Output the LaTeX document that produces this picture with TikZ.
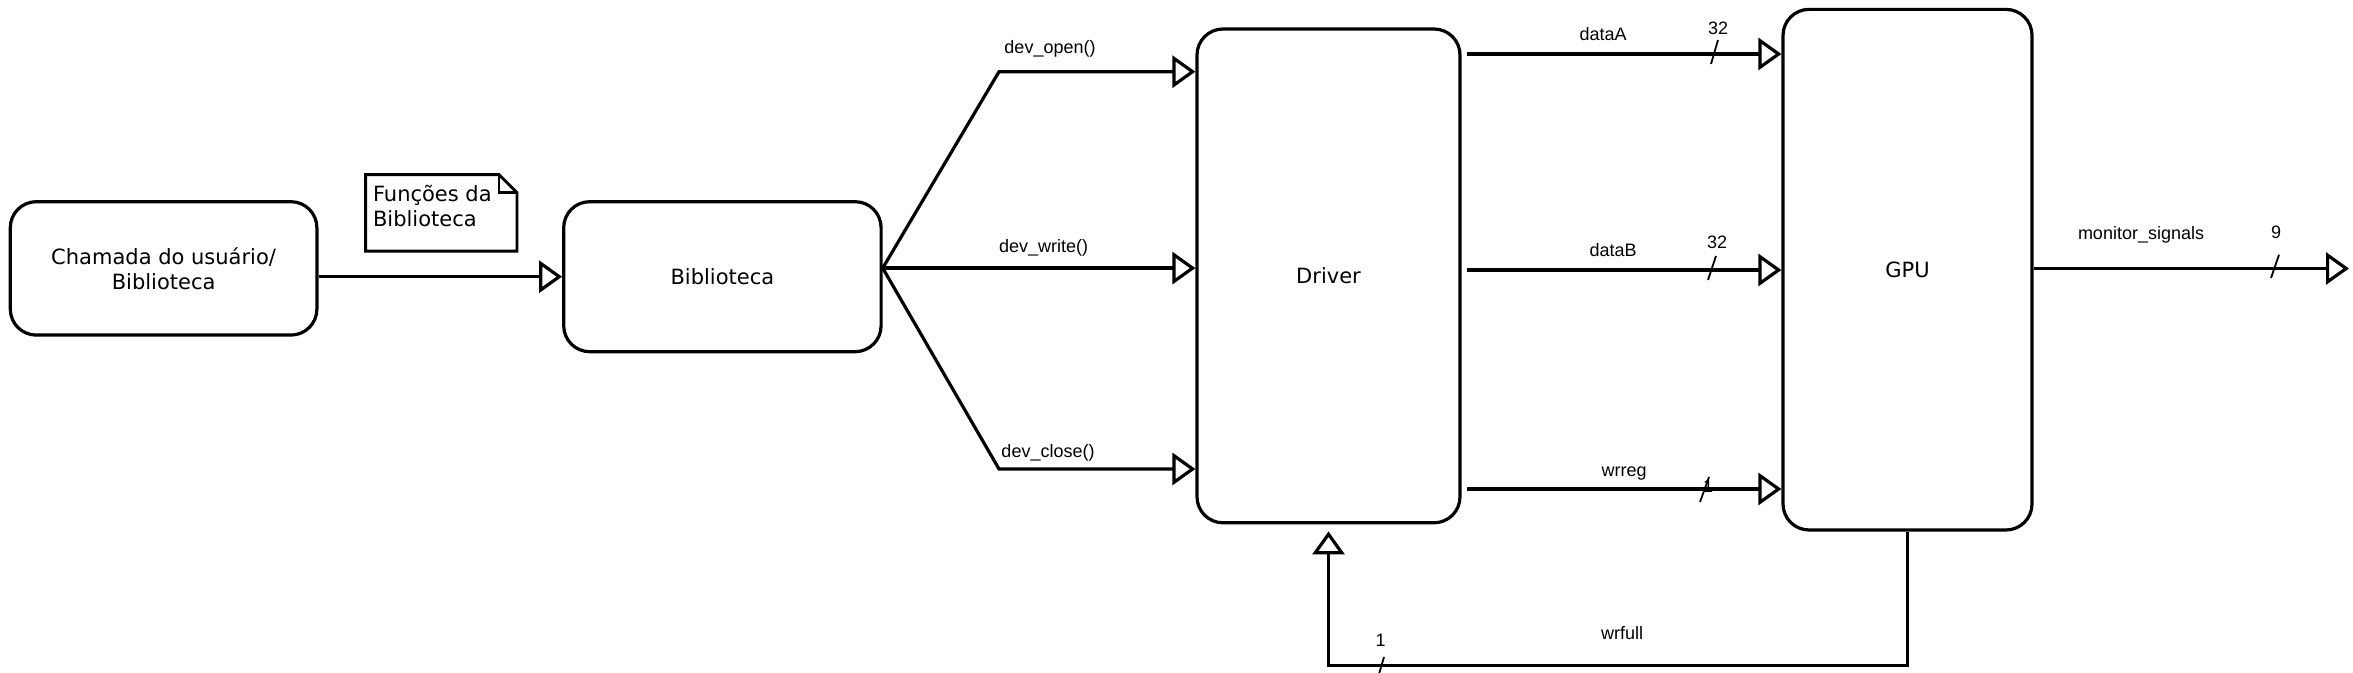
\documentclass[tikz,border=0pt]{standalone}
\usepackage{fontspec}
\setmainfont{DejaVu Sans}
\newfontfamily\labfont{Liberation Sans}
\usetikzlibrary{arrows.meta}
\begin{document}
\begin{tikzpicture}[x=0.5pt,y=-0.5pt,
  blk/.style={draw,line width=1.6pt,rounded corners=13pt,inner sep=0pt,font=\fontsize{10.5}{12.4}\selectfont,align=center},
  arr/.style={line width=1.6pt,-{Triangle[open,length=11.5pt,width=16pt]}},
  notestyle/.style={line width=1.4pt},
  lbl/.style={inner sep=0pt,font=\labfont\fontsize{9}{10.8}\selectfont},
  bus/.style={line width=0.9pt}]
\useasboundingbox (0,0) rectangle (2353,673);
% blocks
\node[blk,minimum width=153.3pt,minimum height=66.7pt] (user) at (163.6,268.4) {Chamada do usuário/\\Biblioteca};
\node[blk,minimum width=158.7pt,minimum height=75pt] (bib) at (722.4,276.7) {Biblioteca};
\node[blk,minimum width=131.5pt,minimum height=246.9pt] (driver) at (1328.5,275.9) {Driver};
\node[blk,minimum width=124.5pt,minimum height=260.3pt] (gpu) at (1907.5,269.7) {GPU};
% note
\node[minimum width=75.3pt,minimum height=37.85pt,inner sep=0pt] (note) at (441.3,212.9) {};
\draw[notestyle] (note.south west) -- (note.north west) -- ([xshift=-9pt]note.north east) -- ([yshift=-9pt]note.north east) -- (note.south east) -- cycle;
\draw[notestyle] ([xshift=-9pt]note.north east) -- ([xshift=-9pt,yshift=-9pt]note.north east) -- ([yshift=-9pt]note.north east);
\node[anchor=north west,inner sep=0pt,align=left,font=\fontsize{10.5}{12.5}\selectfont] (notetext) at ([xshift=3.5pt,yshift=-5pt]note.north west) {Funções da\\Biblioteca};
% user -> biblioteca
\draw[arr] (user.east |- bib.west) -- (bib.west);
% biblioteca -> driver
\coordinate (br) at ([yshift=4.3pt]bib.east);
\coordinate (ko) at (999,71.7);
\coordinate (kc) at (999,469);
\draw[arr] (br) -- (ko) -- (ko -| driver.west);
\draw[arr] (br) -- (br -| driver.west);
\draw[arr] (br) -- (kc) -- (kc -| driver.west);
% driver -> gpu
\coordinate (sa) at (1467,54);
\coordinate (sb) at (1467,270);
\coordinate (sw) at (1467,489);
\draw[arr] (sa) -- (sa -| gpu.west);
\draw[arr] (sb) -- (sb -| gpu.west);
\draw[arr] (sw) -- (sw -| gpu.west);
% monitor
\coordinate (mo) at (2349,268.5);
\draw[arr] (mo -| gpu.east) -- (mo);
% wrfull feedback
\coordinate (wf) at (0,665.7);
\draw[arr,shorten >=3.5pt] (gpu.south) -- (gpu.south |- wf) -- (driver.south |- wf) -- (driver.south);
% bus slashes
\draw[bus] (1711,64) -- (1718,40);
\draw[bus] (1708,280) -- (1716,256);
\draw[bus] (1700,502) -- (1709,477);
\draw[bus] (2271,278) -- (2279,254.7);
\draw[bus] (1379,674) -- (1384,657);
% labels
\node[lbl] (lopen) at (1050,49) {dev\_open()};
\node[lbl] (lwrite) at (1043.5,248) {dev\_write()};
\node[lbl] (lclose) at (1048,453) {dev\_close()};
\node[lbl] (la) at (1603,34) {dataA};
\node[lbl] (na) at (1718,28) {32};
\node[lbl] (lb) at (1613,250) {dataB};
\node[lbl] (nb) at (1717,242) {32};
\node[lbl] (lw) at (1624,474) {wrreg};
\node[lbl] (nw) at (1708,486) {1};
\node[lbl] (lm) at (2141,235) {monitor\_signals};
\node[lbl] (nm) at (2276,232) {9};
\node[lbl] (lf) at (1622,633) {wrfull};
\node[lbl] (nf) at (1380.5,640) {1};
\end{tikzpicture}
\end{document}
